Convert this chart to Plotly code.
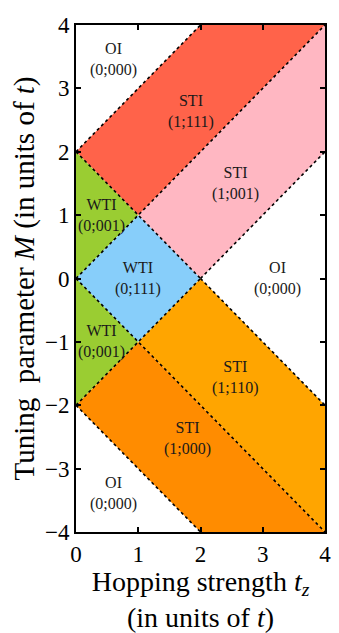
import plotly.graph_objects as go

# Phase regions: (name, label, colour, tz vertices, M vertices, label tz, label M)
region_names = ["STI (1;111)", "STI (1;001)", "WTI (0;001) upper", "WTI (0;111)",
                "WTI (0;001) lower", "STI (1;110)", "STI (1;000)"]
region_colors = ["#FF634A", "#FFB7C2", "#9ACD32", "#87CEFA", "#9ACD32", "#FFA500", "#FF8C00"]
region_tz = [[0, 2, 4, 1], [1, 4, 4, 2], [0, 1, 0], [0, 1, 2, 1], [0, 1, 0],
             [1, 2, 4, 4], [0, 1, 4, 2]]
region_M = [[2, 4, 4, 1], [1, 4, 2, 0], [2, 1, 0], [0, 1, 0, -1], [0, -1, -2],
            [-1, 0, -2, -4], [-2, -1, -4, -4]]

# Phase boundaries (dotted lines)
boundary_tz = [[0, 2], [0, 2], [0, 4], [2, 4], [0, 4], [0, 2], [2, 4], [0, 2]]
boundary_M = [[2, 4], [2, 0], [0, 4], [0, 2], [0, -4], [-2, 0], [0, -2], [-2, -4]]

# Phase labels
label_text = ["OI<br>(0;000)", "STI<br>(1;111)", "STI<br>(1;001)", "WTI<br>(0;001)",
              "WTI<br>(0;111)", "OI<br>(0;000)", "WTI<br>(0;001)", "STI<br>(1;110)",
              "STI<br>(1;000)", "OI<br>(0;000)"]
label_tz = [0.61, 1.84, 2.57, 0.41, 1.0, 3.23, 0.41, 2.57, 1.79, 0.61]
label_M = [3.46, 2.63, 1.5, 1.0, 0.0, 0.0, -1.0, -1.56, -2.53, -3.39]

x_ticks = [0, 1, 2, 3, 4]
y_ticks = [-4, -3, -2, -1, 0, 1, 2, 3, 4]

FONT = "Liberation Serif"

fig = go.Figure()
for name, col, xs, ys in zip(region_names, region_colors, region_tz, region_M):
    fig.add_trace(go.Scatter(x=xs + [xs[0]], y=ys + [ys[0]], fill="toself",
                             fillcolor=col, mode="lines", line=dict(width=0),
                             name=name, hoverinfo="skip", showlegend=False))
for xs, ys in zip(boundary_tz, boundary_M):
    fig.add_trace(go.Scatter(x=xs, y=ys, mode="lines",
                             line=dict(color="black", width=1.6, dash="dot"),
                             hoverinfo="skip", showlegend=False))

for t, x, y in zip(label_text, label_tz, label_M):
    fig.add_annotation(x=x, y=y, text=t, showarrow=False,
                       font=dict(family=FONT, size=16, color="#1a1a1a"))

axis_common = dict(showline=True, linewidth=2, linecolor="black", mirror="ticks",
                   ticks="inside", ticklen=5, tickwidth=1.5, tickcolor="black",
                   showgrid=False, zeroline=False,
                   tickfont=dict(family=FONT, size=23, color="black"))

fig.update_xaxes(range=[0, 4], tickvals=x_ticks, **axis_common,
                 title=dict(text="Hopping strength <i>t<sub>z</sub></i><br>(in units of <i>t</i>)",
                            font=dict(family=FONT, size=28, color="black"), standoff=2))
fig.update_yaxes(range=[-4, 4], tickvals=y_ticks, **axis_common,
                 title=dict(text="Tuning  parameter <i>M</i> (in units of <i>t</i>)",
                            font=dict(family=FONT, size=29, color="black"), standoff=2))

fig.update_layout(width=339, height=633, margin=dict(l=76, r=8, t=25, b=96),
                  plot_bgcolor="white", paper_bgcolor="white")
fig.write_html("out.html")
